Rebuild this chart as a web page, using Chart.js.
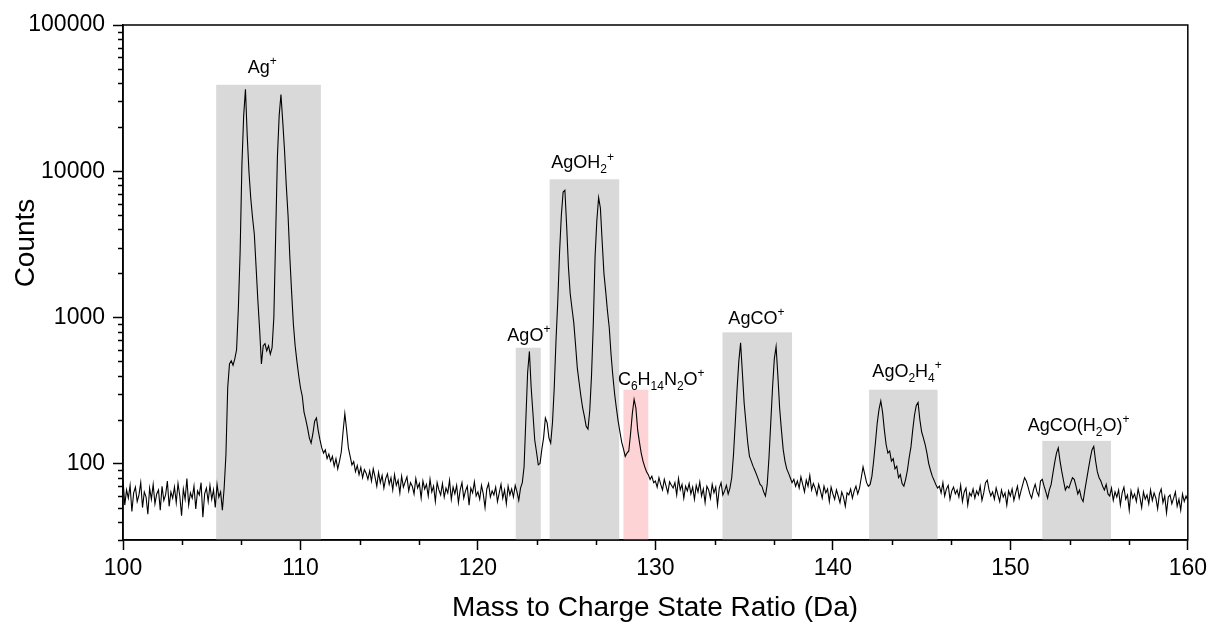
<!DOCTYPE html>
<html>
<head>
<meta charset="utf-8">
<script src="https://cdn.jsdelivr.net/npm/chart.js@4.4.0/dist/chart.umd.min.js"></script>
<style>
  html, body { margin: 0; padding: 0; background: #fff; }
  #wrap { width: 1212px; height: 628px; }
</style>
</head>
<body>
<div id="wrap"><canvas id="spectrum" width="1212" height="628"></canvas></div>
<script>
// mass axis sampling (Da)
const massStart = 100;
const massStep = 0.1;

// counts, one row per Da (x.0 ... x.9)
const counts = [
  78, 52, 66, 58, 71, 47, 63, 69, 55, 61,
  74, 50, 64, 59, 45, 68, 57, 72, 53, 62,
  66, 48, 70, 56, 61, 76, 51, 64, 58, 69,
  54, 73, 60, 44, 67, 57, 79, 52, 63, 58,
  70, 49, 65, 61, 74, 43, 62, 68, 55, 71,
  57, 66, 50, 72, 59, 64, 48, 68, 115, 330,
  480, 505, 470, 520, 600, 1150, 2800, 11000, 24000, 36300,
  17500, 9800, 6500, 4800, 3700, 2200, 1300, 820, 480, 640,
  660, 590, 640, 560, 620, 1000, 3500, 12500, 24000, 33500,
  22000, 14000, 8000, 5000, 2600, 1500, 900, 640, 500, 400,
  330, 290, 225, 200, 175, 150, 138, 160, 195, 205,
  168, 145, 128, 118, 124, 108, 116, 104, 112, 96,
  108, 92, 104, 120, 165, 220, 170, 128, 112, 98,
  103, 88, 97, 84, 94, 80, 91, 86, 78, 89,
  76, 92, 81, 70, 87, 74, 83, 68, 79, 85,
  72, 80, 66, 84, 71, 77, 63, 82, 69, 75,
  81, 65, 74, 70, 62, 79, 68, 73, 58, 76,
  67, 72, 60, 78, 64, 70, 55, 74, 66, 61,
  73, 59, 68, 63, 77, 57, 69, 62, 71, 54,
  66, 74, 58, 65, 70, 52, 68, 63, 75, 60,
  64, 57, 71, 62, 50, 67, 73, 59, 65, 61,
  69, 55, 63, 72, 58, 66, 53, 70, 61, 67,
  59, 71, 64, 56, 68, 74, 95, 200, 420, 585,
  330, 220, 145, 120, 98, 100, 125, 150, 205, 190,
  150, 138, 190, 330, 700, 1300, 2800, 5000, 7200, 7400,
  4200, 2200, 1450, 1150, 920, 650, 450, 360, 290, 240,
  210, 180, 172, 230, 400, 900, 2600, 4600, 6600, 5600,
  3300, 2000, 1500, 1100, 850, 560, 400, 300, 240, 195,
  165, 140, 126, 112, 118, 122, 160, 220, 275, 240,
  170, 140, 118, 104, 95, 88, 84, 78, 82, 74,
  76, 69, 80, 72, 66, 78, 70, 63, 75, 71,
  68, 74, 61, 79, 66, 72, 58, 70, 65, 73,
  62, 69, 57, 71, 64, 75, 60, 67, 54, 70,
  66, 58, 72, 63, 69, 52, 68, 74, 61, 65,
  71, 62, 68, 80, 115, 190, 320, 500, 670, 420,
  260, 190, 140, 112, 104, 96, 90, 84, 78, 72,
  70, 64, 60, 72, 110, 190, 330, 520, 630, 400,
  240, 170, 125, 104, 92, 86, 80, 74, 78, 70,
  76, 68, 81, 72, 64, 77, 70, 83, 66, 73,
  68, 61, 72, 65, 58, 70, 63, 67, 55, 69,
  62, 57, 66, 60, 54, 64, 59, 51, 63, 61,
  67, 58, 65, 70, 62, 68, 80, 95, 84, 74,
  70, 72, 82, 105, 140, 190, 235, 268, 225, 170,
  135, 118, 122, 104, 108, 92, 96, 80, 84, 73,
  70, 78, 90, 110, 130, 170, 215, 250, 262, 200,
  165, 150, 135, 118, 100, 90, 82, 77, 72, 68,
  70, 63, 74, 60, 67, 71, 57, 65, 69, 62,
  66, 59, 71, 55, 64, 68, 52, 63, 60, 67,
  58, 65, 61, 70, 56, 63, 74, 77, 66, 60,
  64, 57, 68, 61, 55, 66, 59, 63, 52, 65,
  60, 67, 56, 63, 70, 58, 65, 72, 80, 76,
  69, 62, 58, 66, 72, 64, 60, 76, 78, 70,
  64, 58, 66, 72, 86, 102, 118, 128, 104, 88,
  76, 66, 70, 68, 74, 80, 78, 70, 62, 66,
  58, 55, 66, 78, 92, 108, 124, 131, 105, 88,
  80, 76, 70, 66, 72, 62, 60, 68, 56, 64,
  59, 66, 52, 63, 69, 57, 61, 48, 65, 58,
  62, 55, 67, 59, 50, 64, 57, 61, 53, 66,
  56, 63, 58, 49, 62, 67, 54, 60, 46, 59,
  61, 53, 58, 64, 51, 57, 48, 62, 55, 60,
  56
];

const yTicks = [100, 1000, 10000, 100000];

// assigned ion windows
const ionNames  = ['Ag^{+}', 'AgO^{+}', 'AgOH_{2}^{+}', 'C_{6}H_{14}N_{2}O^{+}', 'AgCO^{+}', 'AgO_{2}H_{4}^{+}', 'AgCO(H_{2}O)^{+}'];
const ionFrom   = [105.25, 122.13, 124.04, 128.2, 133.78, 142.04, 151.8];
const ionTo     = [111.15, 123.54, 127.96, 129.6, 137.7, 145.9, 155.67];
const ionTop    = [39000, 620, 8800, 320, 790, 320, 143];
const labelMass = [107.85, 122.87, 125.9, 130.33, 135.69, 144.18, 153.85];
const labelAt   = [47200, 692, 10500, 346, 902, 391, 168];
const unassigned = ['C_{6}H_{14}N_{2}O^{+}'];

const FONT = 'Arial, "Liberation Sans", sans-serif';

function drawRich(ctx, text, cx, baseY, size) {
  const parts = [];
  const re = /([_^])\{([^}]*)\}|([^_^]+)/g;
  let m;
  while ((m = re.exec(text))) {
    if (m[3]) parts.push({ t: m[3], k: 'n' });
    else parts.push({ t: m[2], k: m[1] === '_' ? 'sub' : 'sup' });
  }
  const small = Math.round(size * 0.68);
  let w = 0;
  parts.forEach(p => {
    ctx.font = (p.k === 'n' ? size : small) + 'px ' + FONT;
    p.w = ctx.measureText(p.t).width;
    w += p.w;
  });
  let x = cx - w / 2;
  ctx.textAlign = 'left';
  ctx.textBaseline = 'alphabetic';
  parts.forEach(p => {
    ctx.font = (p.k === 'n' ? size : small) + 'px ' + FONT;
    const dy = p.k === 'sub' ? size * 0.3 : p.k === 'sup' ? -size * 0.42 : 0;
    ctx.fillText(p.t, x, baseY + dy);
    x += p.w;
  });
}

const decor = {
  id: 'decor',
  beforeDatasetsDraw(chart) {
    const { ctx, chartArea: a, scales: { x, y } } = chart;
    ctx.save();
    ionNames.forEach((name, i) => {
      const x0 = x.getPixelForValue(ionFrom[i]);
      const x1 = x.getPixelForValue(ionTo[i]);
      const yt = y.getPixelForValue(ionTop[i]);
      ctx.fillStyle = unassigned.includes(name) ? '#fdd3d5' : '#d9d9d9';
      ctx.fillRect(x0, yt, x1 - x0, a.bottom - yt);
    });
    ctx.restore();
  },
  afterDraw(chart) {
    const { ctx, chartArea: a, scales: { x, y } } = chart;
    ctx.save();
    ctx.strokeStyle = '#000';
    ctx.lineWidth = 1.5;
    ctx.strokeRect(a.left, a.top, a.right - a.left, a.bottom - a.top);

    // minor ticks
    ctx.beginPath();
    for (let v = 100; v < 160; v += 10) {
      [v + 10 / 3, v + 20 / 3].forEach(m => {
        const px = Math.round(x.getPixelForValue(m)) + 0.5;
        ctx.moveTo(px, a.bottom);
        ctx.lineTo(px, a.bottom + 5);
      });
    }
    for (let d = 10; d < 100000; d *= 10) {
      for (let k = 2; k <= 9; k++) {
        const v = k * d;
        if (v < 30) continue;
        const py = Math.round(y.getPixelForValue(v)) + 0.5;
        ctx.moveTo(a.left, py);
        ctx.lineTo(a.left - 5, py);
      }
    }
    ctx.stroke();

    // ion labels
    ctx.fillStyle = '#000';
    ionNames.forEach((name, i) => {
      drawRich(ctx, name, x.getPixelForValue(labelMass[i]), y.getPixelForValue(labelAt[i]), 18);
    });

    // axis titles
    ctx.font = '28px ' + FONT;
    ctx.textAlign = 'center';
    ctx.textBaseline = 'middle';
    ctx.fillText('Mass to Charge State Ratio (Da)', 655, 608);
    ctx.translate(26, 243);
    ctx.rotate(-Math.PI / 2);
    ctx.fillText('Counts', 0, 0);
    ctx.restore();
  }
};

const points = counts.map((c, i) => ({ x: massStart + i * massStep, y: c }));

new Chart(document.getElementById('spectrum'), {
  type: 'line',
  data: {
    datasets: [{
      data: points,
      borderColor: '#000',
      borderWidth: 1.1,
      pointRadius: 0,
      tension: 0,
      fill: false
    }]
  },
  options: {
    responsive: false,
    animation: false,
    layout: { padding: { top: 25, right: 23, left: 0, bottom: 0 } },
    plugins: { legend: { display: false }, tooltip: { enabled: false } },
    scales: {
      x: {
        type: 'linear',
        min: 100,
        max: 160,
        afterFit: s => { s.height = 88; },
        ticks: { stepSize: 10, color: '#000', padding: 5, font: { family: FONT, size: 23 } },
        grid: { drawOnChartArea: false, tickLength: 10, tickColor: '#000', tickWidth: 1.5 },
        border: { color: '#000', width: 1.5 }
      },
      y: {
        type: 'logarithmic',
        min: 30,
        max: 100000,
        afterBuildTicks: s => { s.ticks = yTicks.map(v => ({ value: v, major: true })); },
        afterFit: s => { s.width = 123; },
        ticks: { color: '#000', padding: 8, font: { family: FONT, size: 23 }, callback: v => String(v) },
        grid: { drawOnChartArea: false, tickLength: 10, tickColor: '#000', tickWidth: 1.5 },
        border: { color: '#000', width: 1.5 }
      }
    }
  },
  plugins: [decor]
});
</script>
</body>
</html>
